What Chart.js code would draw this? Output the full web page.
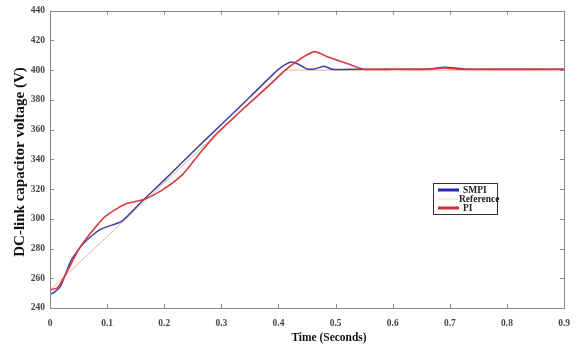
<!DOCTYPE html>
<html>
<head>
<meta charset="utf-8">
<script src="https://cdn.jsdelivr.net/npm/chart.js@4.4.1/dist/chart.umd.min.js"></script>
<style>
html,body{margin:0;padding:0;background:#fff;}
#wrap{width:580px;height:349px;position:relative;}
</style>
</head>
<body>
<div id="wrap"><canvas id="c" width="580" height="349"></canvas></div>
<script>
// ---- data ----
const seriesNames = ["SMPI", "Reference", "PI"];

const smpiT = [0, 0.009, 0.019, 0.037, 0.06, 0.089, 0.126, 0.164, 0.2, 0.25, 0.3, 0.35, 0.39, 0.405, 0.422, 0.435, 0.45, 0.465, 0.48, 0.494, 0.55, 0.65, 0.67, 0.69, 0.71, 0.73, 0.9];
const smpiV = [249, 251, 255, 272, 284, 293, 298.5, 313, 326, 345, 363.5, 382, 397, 402, 405.5, 404, 400.8, 401, 402.7, 400.6, 400.6, 400.6, 401, 402, 401.5, 400.6, 400.6];

const refT = [0, 0.41, 0.9];
const refV = [252, 400, 400];

const piT = [0, 0.014, 0.034, 0.049, 0.063, 0.095, 0.132, 0.164, 0.195, 0.23, 0.26, 0.29, 0.33, 0.36, 0.39, 0.415, 0.44, 0.463, 0.488, 0.52, 0.549, 0.6, 0.66, 0.69, 0.72, 0.9];
const piV = [252, 254, 267.5, 278.7, 286.5, 301, 310, 313, 319, 329, 343, 356.5, 371, 381.5, 392, 401, 408, 412.5, 408.7, 404.5, 400.6, 400.6, 400.6, 401.5, 400.6, 400.6];

const xTicks = [0, 0.1, 0.2, 0.3, 0.4, 0.5, 0.6, 0.7, 0.8, 0.9];
const yTicks = [240, 260, 280, 300, 320, 340, 360, 380, 400, 420, 440];

const xTitle = "Time (Seconds)";
const yTitle = "DC-link capacitor voltage (V)";

// ---- build ----
const pts = (t, v) => t.map((x, i) => ({x: x, y: v[i]}));
const serif = '"Liberation Serif", "Times New Roman", serif';

const frame = {
  id: 'frame',
  afterDraw(chart) {
    const {ctx, chartArea: a, scales} = chart;
    ctx.save();
    ctx.strokeStyle = '#8a8a8a';
    ctx.lineWidth = 1;
    ctx.strokeRect(Math.round(a.left) + 0.5, Math.round(a.top) + 0.5, Math.round(a.right - a.left), Math.round(a.bottom - a.top));
    ctx.beginPath();
    const L = 4;
    xTicks.forEach(v => {
      const px = Math.round(scales.x.getPixelForValue(v)) + 0.5;
      ctx.moveTo(px, a.bottom); ctx.lineTo(px, a.bottom - L);
      ctx.moveTo(px, a.top); ctx.lineTo(px, a.top + L);
    });
    yTicks.forEach(v => {
      const py = Math.round(scales.y.getPixelForValue(v)) + 0.5;
      ctx.moveTo(a.left, py); ctx.lineTo(a.left + L, py);
      ctx.moveTo(a.right, py); ctx.lineTo(a.right - L, py);
    });
    ctx.stroke();

    // axis titles
    ctx.fillStyle = '#111';
    ctx.textAlign = 'center';
    ctx.textBaseline = 'middle';
    ctx.save();
    ctx.translate(329, 338);
    ctx.scale(0.88, 1);
    ctx.font = 'bold 13px ' + serif;
    ctx.fillText(xTitle, 0, 0);
    ctx.restore();
    ctx.save();
    ctx.translate(20, 162);
    ctx.rotate(-Math.PI / 2);
    ctx.font = 'bold 15px ' + serif;
    ctx.fillText(yTitle, 0, 0);
    ctx.restore();

    // legend box
    const bx = 433, by = 183, bw = 64, bh = 31;
    ctx.fillStyle = '#fff';
    ctx.fillRect(bx, by, bw, bh);
    ctx.strokeStyle = '#333';
    ctx.lineWidth = 1;
    ctx.strokeRect(bx + 0.5, by + 0.5, bw, bh);
    ctx.font = 'bold 9.5px ' + serif;
    ctx.textAlign = 'left';
    ctx.textBaseline = 'middle';
    ctx.fillStyle = '#222';
    const rows = [
      {ds: 0, y: by + 7, sx: 438, ex: 459, tx: 463},
      {ds: 1, y: by + 16, sx: 438, ex: 458, tx: 459},
      {ds: 2, y: by + 25, sx: 438, ex: 459, tx: 463}
    ];
    rows.forEach(r => {
      const d = chart.data.datasets[r.ds];
      ctx.strokeStyle = d.legendColor;
      ctx.lineWidth = r.ds === 1 ? 1.2 : 3;
      ctx.beginPath(); ctx.moveTo(r.sx, r.y); ctx.lineTo(r.ex, r.y); ctx.stroke();
      ctx.fillText(d.label, r.tx, r.y + 0.5);
    });
    ctx.restore();
  }
};

const tickFont = {family: serif, size: 9.5, weight: 'bold'};

new Chart(document.getElementById('c'), {
  type: 'line',
  data: {
    datasets: [
      {label: seriesNames[0], data: pts(smpiT, smpiV), borderColor: '#3f3fa6', legendColor: '#2626a8', borderWidth: 1.5, pointRadius: 0, tension: 0.2, order: 1},
      {label: seriesNames[1], data: pts(refT, refV), borderColor: '#e9b48e', legendColor: '#f1e3bd', borderWidth: 1, pointRadius: 0, tension: 0, order: 2},
      {label: seriesNames[2], data: pts(piT, piV), borderColor: '#dc3a3f', legendColor: '#d32f38', borderWidth: 1.6, pointRadius: 0, tension: 0.2, order: 0}
    ]
  },
  options: {
    responsive: false,
    animation: false,
    devicePixelRatio: 1,
    layout: {padding: {top: 8, right: 8, left: 0, bottom: 0}},
    plugins: {legend: {display: false}, tooltip: {enabled: false}},
    scales: {
      x: {
        type: 'linear', min: 0, max: 0.9,
        afterBuildTicks: s => { s.ticks = xTicks.map(v => ({value: v})); },
        afterFit: s => { s.height = 41; },
        grid: {display: false, drawTicks: false},
        border: {display: false},
        ticks: {padding: 10, color: '#444', font: tickFont, maxRotation: 0,
          callback: v => v === 0 ? '0' : (+v).toFixed(1)},
        title: {display: false}
      },
      y: {
        type: 'linear', min: 240, max: 440,
        afterBuildTicks: s => { s.ticks = yTicks.map(v => ({value: v})); },
        afterFit: s => { s.width = 50; },
        grid: {display: false, drawTicks: false},
        border: {display: false},
        ticks: {padding: 5, color: '#444', font: tickFont},
        title: {display: false}
      }
    }
  },
  plugins: [frame]
});
</script>
</body>
</html>
